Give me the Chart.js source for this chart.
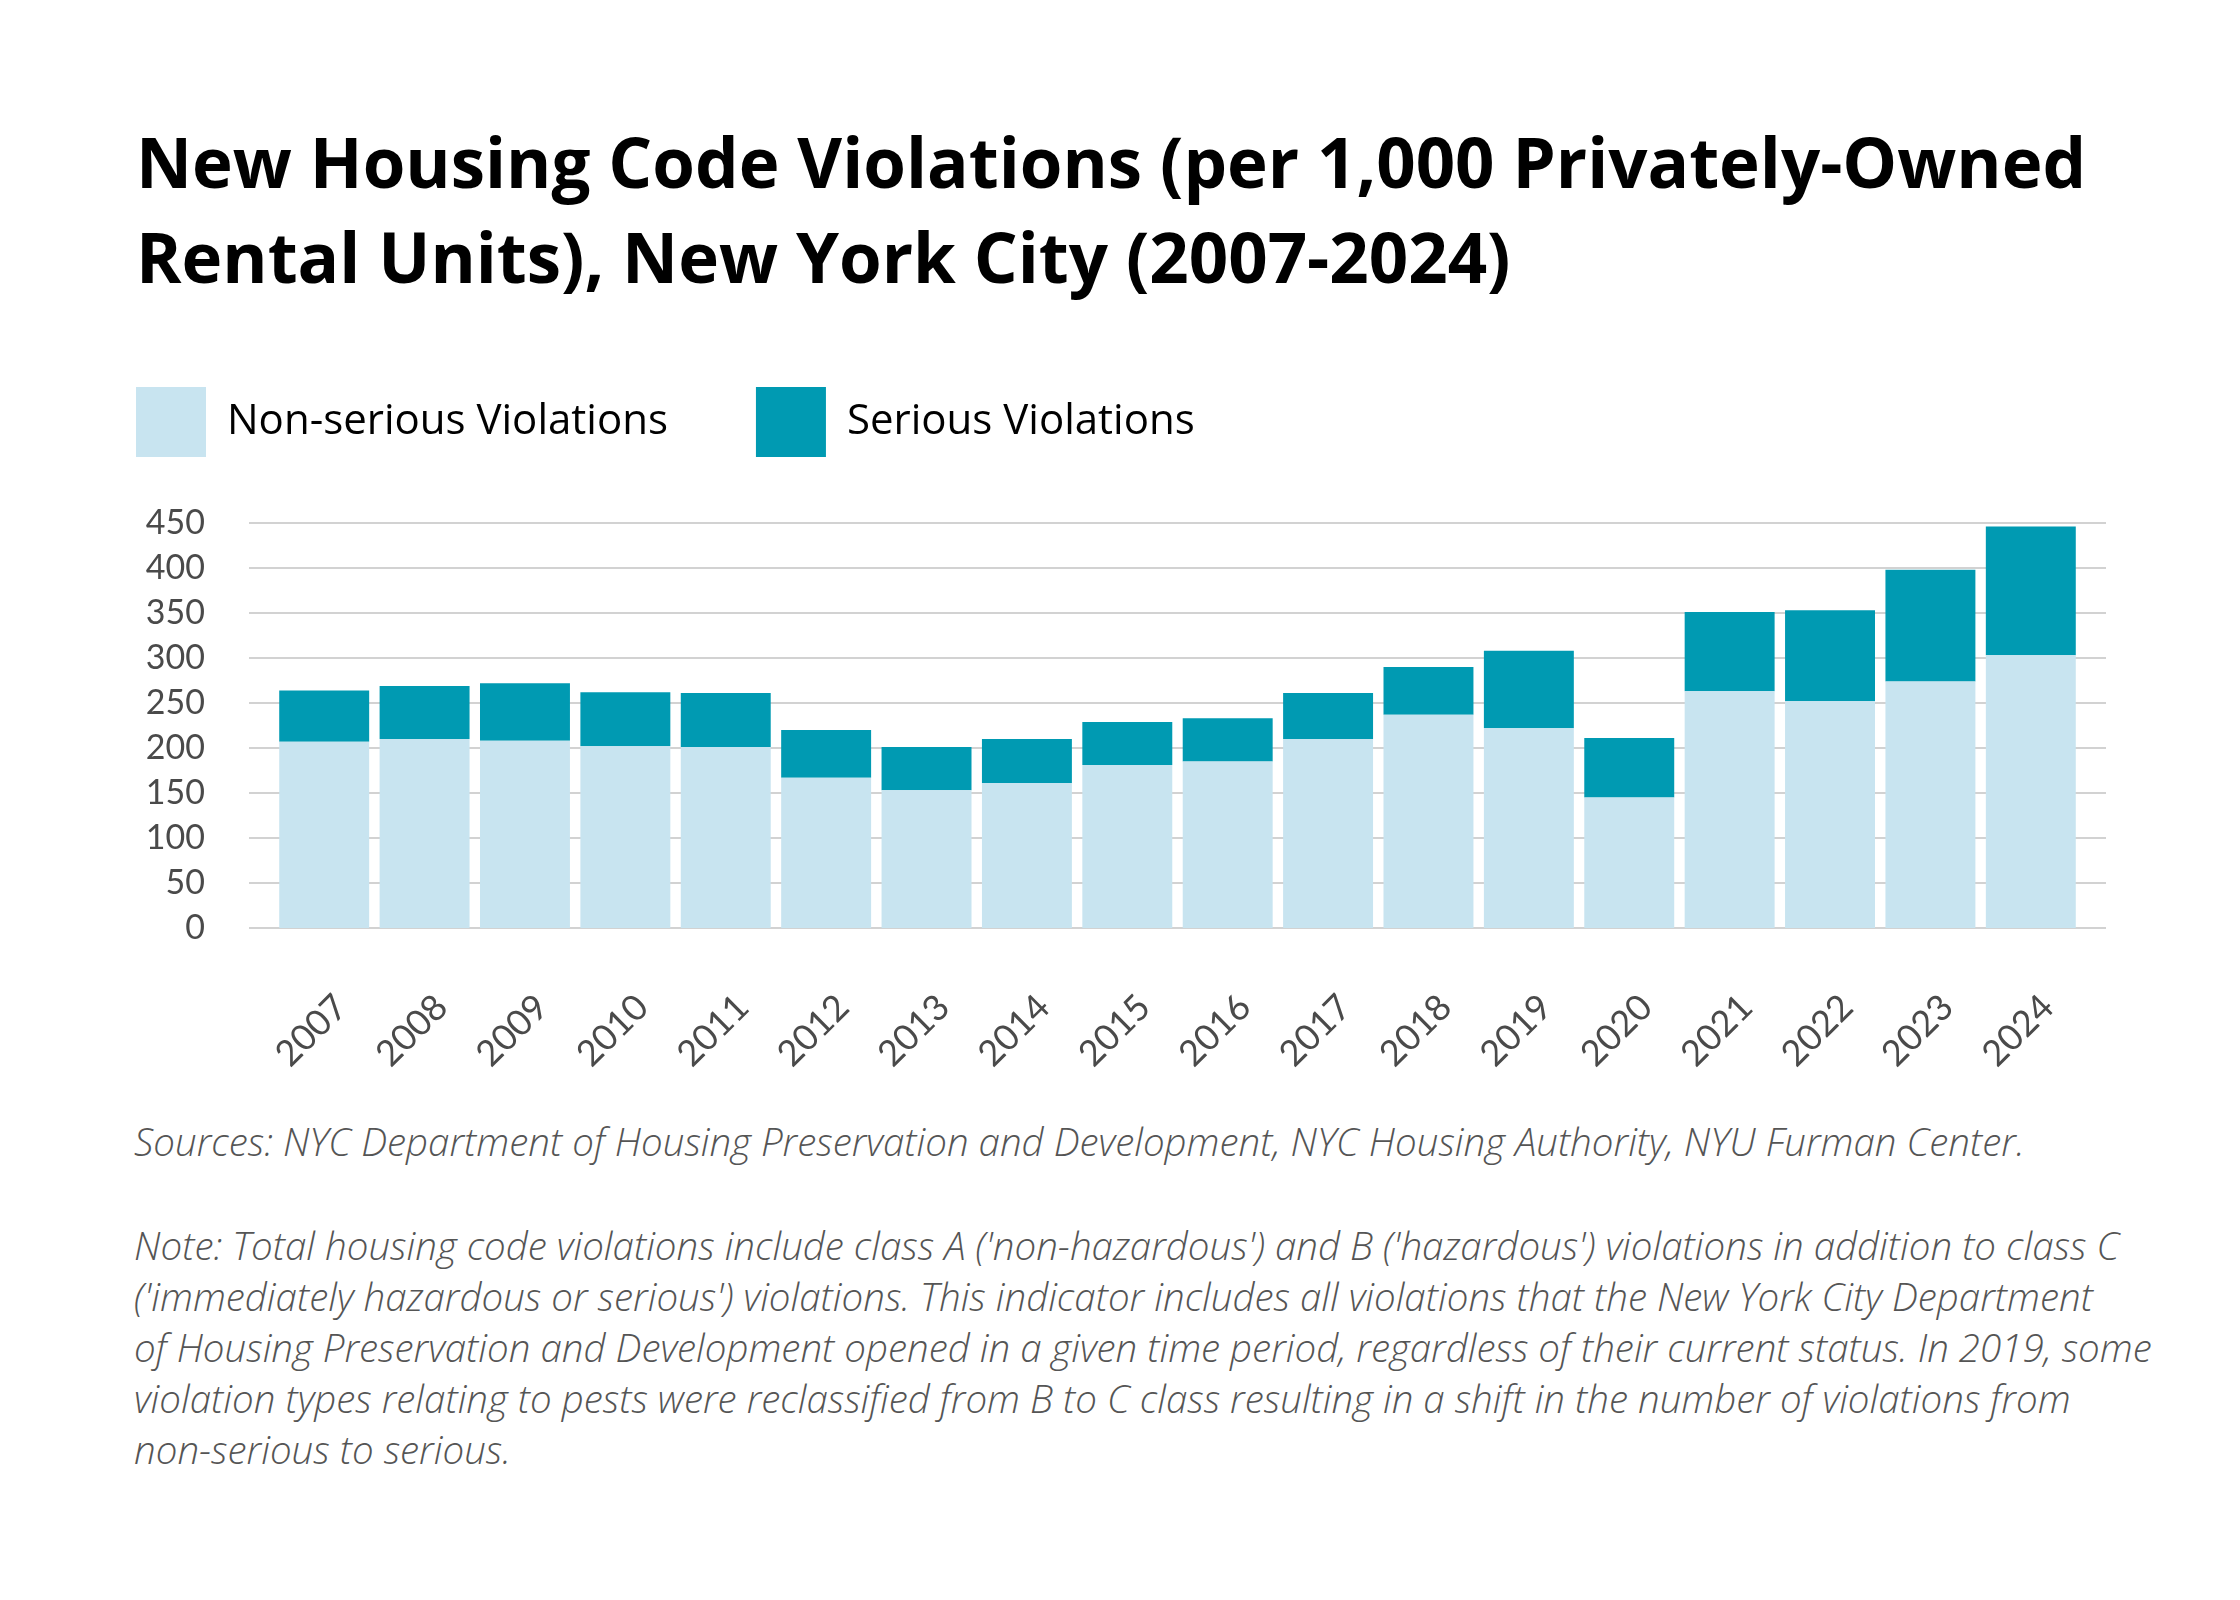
<!DOCTYPE html>
<html>
<head>
<meta charset="utf-8">
<script src="https://cdn.jsdelivr.net/npm/chart.js@4.4.1/dist/chart.umd.min.js"></script>
<style>
    html, body { margin: 0; padding: 0; background: #ffffff; }
    body { width: 2240px; height: 1600px; position: relative; overflow: hidden; }
    #title {
        position: absolute; left: 136px; top: 114px;
        font-family: "Open Sans", sans-serif; font-weight: 700; font-size: 69px;
        line-height: 95px; color: #000; white-space: nowrap;
    }
    #chartBox { position: absolute; left: 0; top: 0; width: 2240px; height: 1110px; }
    .foot {
        position: absolute; left: 134px;
        font-family: "Open Sans", sans-serif; font-style: italic; font-weight: 300;
        font-size: 38.5px; line-height: 51px; color: #555; white-space: nowrap;
    }
    #sources { top: 1116px; }
    #note { top: 1220px; }
</style>
</head>
<body>
<div id="title">New Housing Code Violations (per 1,000 Privately-Owned<br>Rental Units), New York City (2007-2024)</div>
<div id="chartBox"><canvas id="violationsChart"></canvas></div>
<div class="foot" id="sources">Sources: NYC Department of Housing Preservation and Development, NYC Housing Authority, NYU Furman Center.</div>
<div class="foot" id="note">Note: Total housing code violations include class A ('non-hazardous') and B ('hazardous') violations in addition to class C<br>('immediately hazardous or serious') violations. This indicator includes all violations that the New York City Department<br>of Housing Preservation and Development opened in a given time period, regardless of their current status. In 2019, some<br>violation types relating to pests were reclassified from B to C class resulting in a shift in the number of violations from<br>non-serious to serious.</div>

<script>
// Data
const years = ['2007', '2008', '2009', '2010', '2011', '2012', '2013', '2014', '2015',
    '2016', '2017', '2018', '2019', '2020', '2021', '2022', '2023', '2024'];
const nonSerious = [207, 210, 208, 202, 201, 167, 153, 161, 181, 185, 210, 237, 222, 145, 263, 252, 274, 303];
const serious = [57, 59, 64, 60, 60, 53, 48, 49, 48, 48, 51, 53, 86, 66, 88, 101, 124, 143];
const yTicks = [0, 50, 100, 150, 200, 250, 300, 350, 400, 450];

const tickColor = '#4a4a4a';
const gridColor = '#d2d2d2';

// Gridlines run a little past the outer bars on both sides
const wideGrid = {
    id: 'wideGrid',
    beforeDatasetsDraw(chart) {
        const {ctx, chartArea, scales} = chart;
        ctx.save();
        ctx.strokeStyle = gridColor;
        ctx.lineWidth = 2;
        yTicks.forEach(v => {
            const y = Math.round(scales.y.getPixelForValue(v));
            ctx.beginPath();
            ctx.moveTo(chartArea.left - 25, y);
            ctx.lineTo(chartArea.right + 25, y);
            ctx.stroke();
        });
        ctx.restore();
    }
};

// Extra room between legend and plot
const legendGap = {
    id: 'legendGap',
    beforeInit(chart) {
        const fit = chart.legend.fit;
        chart.legend.fit = function() {
            fit.bind(chart.legend)();
            this.height += 56;
        };
    }
};

new Chart(document.getElementById('violationsChart'), {
    type: 'bar',
    data: {
        labels: years,
        datasets: [
            {
                label: 'Non-serious Violations',
                data: nonSerious,
                backgroundColor: '#c8e4f0',
                borderWidth: 0,
                categoryPercentage: 1,
                barPercentage: 0.896
            },
            {
                label: 'Serious Violations',
                data: serious,
                backgroundColor: '#009ab2',
                borderWidth: 0,
                categoryPercentage: 1,
                barPercentage: 0.896
            }
        ]
    },
    options: {
        responsive: true,
        maintainAspectRatio: false,
        devicePixelRatio: 1,
        animation: false,
        layout: {
            padding: { top: 299, left: 48, right: 159, bottom: 0 }
        },
        plugins: {
            legend: {
                position: 'top',
                align: 'start',
                labels: {
                    boxWidth: 70,
                    boxHeight: 70,
                    padding: 88,
                    color: '#000',
                    font: { family: 'Open Sans', size: 42 }
                }
            },
            tooltip: { enabled: false }
        },
        scales: {
            x: {
                stacked: true,
                grid: { display: false, drawTicks: false },
                border: { display: false },
                ticks: {
                    color: tickColor,
                    font: { family: 'Lato', size: 36 },
                    maxRotation: 45,
                    minRotation: 45,
                    padding: 58,
                    labelOffset: 17
                },
                afterFit(scale) {
                    scale.height = 182;
                }
            },
            y: {
                stacked: true,
                min: 0,
                max: 450,
                grid: { display: false, drawTicks: false },
                border: { display: false },
                ticks: {
                    stepSize: 50,
                    color: tickColor,
                    font: { family: 'Lato', size: 34 },
                    padding: 69
                },
                afterFit(scale) {
                    scale.width = 226;
                }
            }
        }
    },
    plugins: [wideGrid, legendGap]
});
</script>
</body>
</html>
